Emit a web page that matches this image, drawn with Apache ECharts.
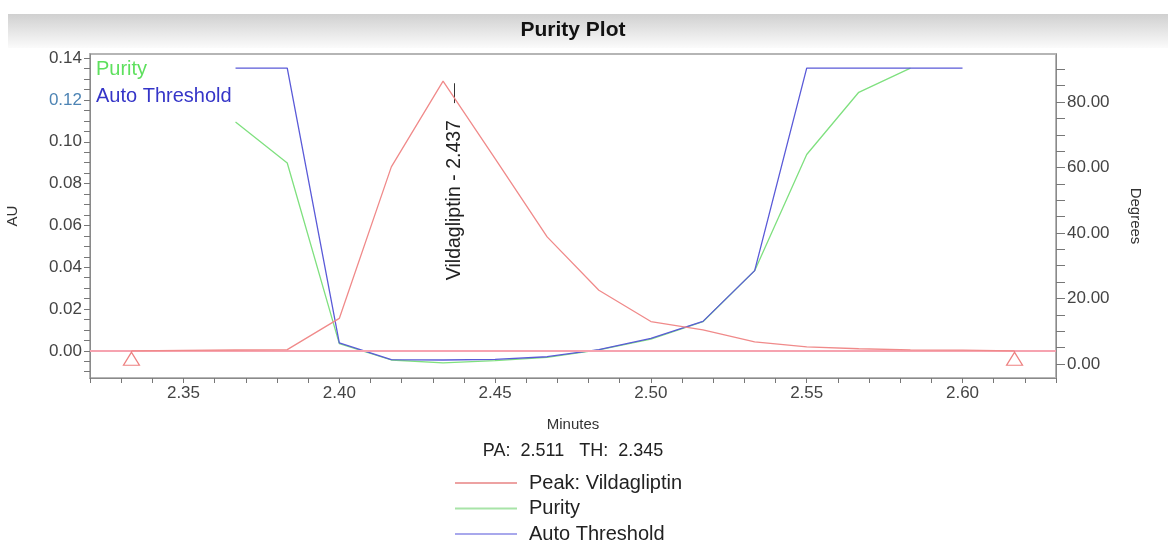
<!DOCTYPE html>
<html>
<head>
<meta charset="utf-8">
<script src="https://cdn.jsdelivr.net/npm/echarts@6/dist/echarts.min.js"></script>
<style>
  html, body { margin: 0; padding: 0; background: #fff; }
  #main { width: 1168px; height: 540px; }
</style>
</head>
<body>
<div id="main"></div>
<script>
// sampling times (minutes), 1 point per second
var times = [2.3333, 2.35, 2.3667, 2.3833, 2.40, 2.4167, 2.4333, 2.45, 2.4667,
  2.4833, 2.50, 2.5167, 2.5333, 2.55, 2.5667, 2.5833, 2.60, 2.6167]
// peak absorbance (AU)
var peakAU = [0.0, 0.0002, 0.0004, 0.0006, 0.0155, 0.088, 0.129, 0.092, 0.0545,
  0.029, 0.014, 0.010, 0.0043, 0.0019, 0.001, 0.0005, 0.0003, 0.0]
// purity angle (degrees)
var purityDeg = [null, null, 73.9, 61.4, 6.2, 1.2, 0.3, 1.0, 2.0,
  4.3, 7.6, 12.9, 28.5, 64.0, 83.0, 90.4, null, null]
// auto threshold (degrees)
var thresholdDeg = [null, null, 90.4, 90.4, 6.4, 1.3, 1.2, 1.4, 2.2,
  4.4, 7.8, 13.0, 28.5, 90.4, 90.4, 90.4, 90.4, null]
// peak start / end markers
var markerTimes = [2.3333, 2.6167]
var markerAU = [-0.0038, -0.0038]
var apexTime = 2.437

// ticks and labels
var xLabels = [2.35, 2.40, 2.45, 2.50, 2.55, 2.60]
var xTicks = [2.32, 2.33, 2.34, 2.35, 2.36, 2.37, 2.38, 2.39, 2.40, 2.41, 2.42, 2.43,
  2.44, 2.45, 2.46, 2.47, 2.48, 2.49, 2.50, 2.51, 2.52, 2.53, 2.54, 2.55, 2.56,
  2.57, 2.58, 2.59, 2.60, 2.61, 2.62, 2.63]
var auLabels = [0.00, 0.02, 0.04, 0.06, 0.08, 0.10, 0.12, 0.14]
var auTicks = [-0.01, -0.005, 0, 0.005, 0.01, 0.015, 0.02, 0.025, 0.03, 0.035, 0.04,
  0.045, 0.05, 0.055, 0.06, 0.065, 0.07, 0.075, 0.08, 0.085, 0.09, 0.095, 0.10,
  0.105, 0.11, 0.115, 0.12, 0.125, 0.13, 0.135, 0.14]
var degLabels = [0, 20, 40, 60, 80]
var degTicks = [0, 5, 10, 15, 20, 25, 30, 35, 40, 45, 50, 55, 60, 65, 70, 75, 80, 85, 90]

var font = 'Liberation Sans, Arial, sans-serif'

function pairs (ys) {
  return times.map(function (t, i) { return [t, ys[i]] })
}

var chart = echarts.init(document.getElementById('main'))

chart.setOption({
  animation: false,
  textStyle: { fontFamily: font },
  grid: {
    left: 90, right: 112, top: 54, bottom: 162,
    containLabel: false,
    outerBoundsMode: 'none',
    show: true, borderColor: '#b5b5b5', borderWidth: 2
  },
  graphic: [
    {
      type: 'rect', z: -10,
      shape: { x: 8, y: 14, width: 1160, height: 34 },
      style: {
        fill: new echarts.graphic.LinearGradient(0, 0, 0, 1, [
          { offset: 0, color: '#d0d0d0' },
          { offset: 1, color: '#fbfbfb' }
        ])
      }
    },
    {
      type: 'text', x: 573, y: 30,
      style: {
        text: 'Purity Plot', textAlign: 'center', textVerticalAlign: 'middle',
        font: 'bold 21px Liberation Sans Narrow, Liberation Sans, Arial', fill: '#111'
      }
    },
    {
      type: 'text', x: 96, y: 69,
      style: { text: 'Purity', textVerticalAlign: 'middle', font: '20px ' + font, fill: '#5ee05e' }
    },
    {
      type: 'text', x: 96, y: 96,
      style: { text: 'Auto Threshold', textVerticalAlign: 'middle', font: '20px ' + font, fill: '#3535c8' }
    },
    {
      type: 'text', x: 573, y: 451,
      style: {
        text: 'PA:  2.511   TH:  2.345', textAlign: 'center', textVerticalAlign: 'middle',
        font: '18px ' + font, fill: '#222'
      }
    }
  ],
  legend: {
    orient: 'vertical',
    left: 450,
    top: 468,
    height: 90,
    itemWidth: 62,
    itemHeight: 2,
    itemGap: 5.5,
    icon: 'rect',
    textStyle: { fontSize: 20, color: '#222', lineHeight: 20, padding: [0, 0, 0, 7], fontFamily: font },
    data: [
      { name: 'Peak: Vildagliptin', itemStyle: { color: '#eda2a2' } },
      { name: 'Purity', itemStyle: { color: '#a8e4a8' } },
      { name: 'Auto Threshold', itemStyle: { color: '#a8a8ec' } }
    ]
  },
  xAxis: {
    type: 'value',
    min: 2.32,
    max: 2.63,
    name: 'Minutes',
    nameLocation: 'middle',
    nameGap: 39,
    nameTextStyle: { fontSize: 15, color: '#333' },
    axisLine: { onZero: false, lineStyle: { color: '#8a8a8a' } },
    axisTick: { customValues: xTicks, length: 5, lineStyle: { color: '#777' } },
    axisLabel: {
      customValues: xLabels, fontSize: 17, color: '#444', margin: 7,
      formatter: function (v) { return v.toFixed(2) }
    },
    splitLine: { show: false }
  },
  yAxis: [
    {
      type: 'value',
      min: -0.013,
      max: 0.142,
      name: 'AU',
      nameLocation: 'middle',
      nameGap: 70,
      nameRotate: 90,
      nameTextStyle: { fontSize: 15, color: '#333' },
      axisLine: { show: true, onZero: false, lineStyle: { color: '#8a8a8a' } },
      axisTick: { customValues: auTicks, length: 6, lineStyle: { color: '#777' } },
      axisLabel: {
        customValues: auLabels, fontSize: 17, color: '#444', margin: 8,
        formatter: function (v) {
          return Math.abs(v - 0.12) < 1e-9 ? '{hl|0.12}' : v.toFixed(2)
        },
        rich: { hl: { fontSize: 17, color: '#4d84b4' } }
      },
      splitLine: { show: false }
    },
    {
      type: 'value',
      position: 'right',
      min: -4.3,
      max: 94.7,
      name: 'Degrees',
      nameLocation: 'middle',
      nameGap: 72,
      nameRotate: -90,
      nameTextStyle: { fontSize: 15, color: '#333' },
      axisLine: { show: true, onZero: false, lineStyle: { color: '#8a8a8a' } },
      axisTick: { customValues: degTicks, length: 9, lineStyle: { color: '#777' } },
      axisLabel: {
        customValues: degLabels, fontSize: 17, color: '#444', margin: 11,
        formatter: function (v) { return v.toFixed(2) }
      },
      splitLine: { show: false }
    }
  ],
  series: [
    {
      name: 'Purity',
      type: 'line',
      yAxisIndex: 1,
      data: pairs(purityDeg),
      showSymbol: false,
      lineStyle: { color: '#7fe07f', width: 1.3 },
      itemStyle: { color: '#7fe07f' },
      z: 3
    },
    {
      name: 'Auto Threshold',
      type: 'line',
      yAxisIndex: 1,
      data: pairs(thresholdDeg),
      showSymbol: false,
      lineStyle: { color: '#5a5ad8', width: 1.3 },
      itemStyle: { color: '#5a5ad8' },
      z: 4
    },
    {
      name: 'Peak: Vildagliptin',
      type: 'line',
      yAxisIndex: 0,
      data: pairs(peakAU),
      showSymbol: false,
      lineStyle: { color: '#f08a8a', width: 1.3 },
      itemStyle: { color: '#f08a8a' },
      z: 5,
      markLine: {
        silent: true,
        symbol: 'none',
        label: { show: false },
        data: [
          { yAxis: 0, lineStyle: { color: '#f6a3b0', width: 2, type: 'solid' } },
          [
            { coord: [apexTime, 0.1185], lineStyle: { color: '#333', width: 1, type: 'solid' } },
            { coord: [apexTime, 0.128] }
          ]
        ]
      },
      markPoint: {
        silent: true,
        symbol: 'rect',
        symbolSize: 1,
        itemStyle: { color: 'rgba(0,0,0,0)' },
        data: [{
          coord: [apexTime, 0.0721],
          label: {
            show: true, position: 'inside', rotate: 90,
            formatter: 'Vildagliptin - 2.437',
            fontSize: 19.5, color: '#222', fontFamily: font
          }
        }]
      }
    },
    {
      name: 'markers',
      type: 'scatter',
      yAxisIndex: 0,
      symbol: 'triangle',
      symbolSize: [16, 13],
      data: markerTimes.map(function (t, i) { return [t, markerAU[i]] }),
      itemStyle: { color: 'rgba(255,255,255,0)', borderColor: '#e86060', borderWidth: 1.2 },
      z: 6
    }
  ]
})
</script>
</body>
</html>
